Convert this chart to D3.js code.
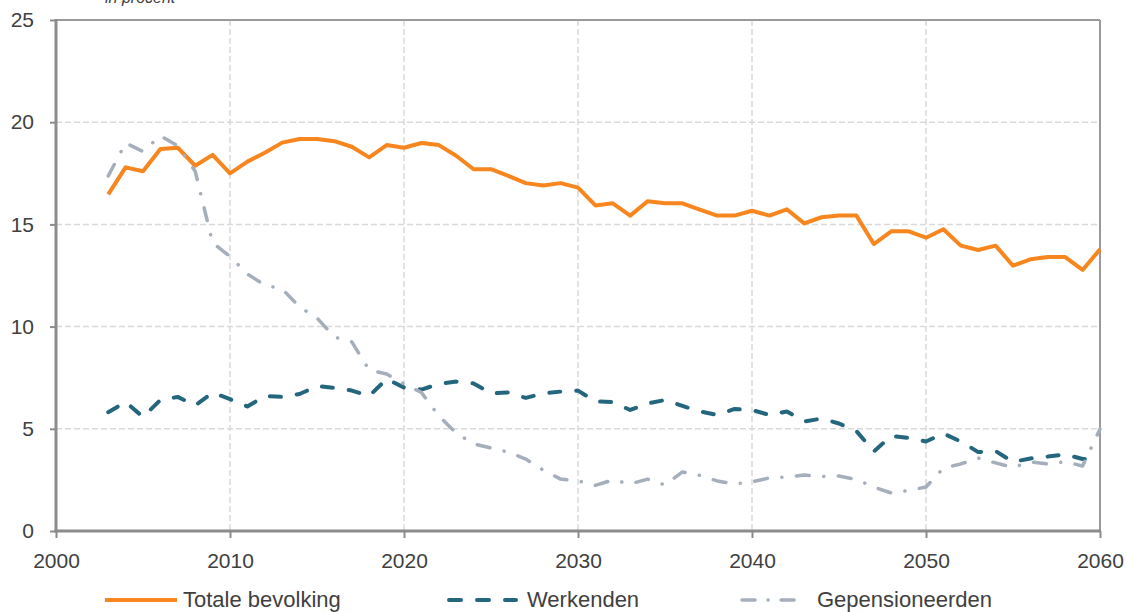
<!DOCTYPE html>
<html>
<head>
<meta charset="utf-8">
<script src="https://cdn.jsdelivr.net/npm/d3@7"></script>
<style>
  html, body { margin: 0; padding: 0; background: #fff; }
  svg { display: block; }
  text { font-family: "Liberation Sans", Arial, sans-serif; }
</style>
</head>
<body>
<svg id="chart" width="1126" height="612"></svg>
<script>
const years = d3.range(2003, 2061);

const totaleBevolking = [
  16.47, 17.79, 17.6, 18.69, 18.75, 17.87, 18.4, 17.5, 18.07, 18.51,
  19.0, 19.18, 19.18, 19.07, 18.8, 18.28, 18.88, 18.75, 18.98, 18.88,
  18.36, 17.7, 17.7, 17.37, 17.02, 16.9, 17.02, 16.8, 15.93, 16.03,
  15.43, 16.13, 16.03, 16.03, 15.72, 15.43, 15.43, 15.67, 15.43, 15.74,
  15.05, 15.35, 15.43, 15.43, 14.04, 14.66, 14.66, 14.35, 14.76, 13.96,
  13.75, 13.96, 12.98, 13.29, 13.4, 13.4, 12.77, 13.78
];

const werkenden = [
  5.81, 6.31, 5.58, 6.41, 6.56, 6.14, 6.77, 6.45, 6.09, 6.6,
  6.56, 6.7, 7.09, 7.0, 6.87, 6.6, 7.44, 7.02, 6.92, 7.19,
  7.31, 7.22, 6.73, 6.78, 6.51, 6.73, 6.82, 6.87, 6.34, 6.31,
  5.92, 6.24, 6.41, 6.12, 5.85, 5.68, 5.97, 5.92, 5.68, 5.85,
  5.36, 5.5, 5.26, 4.89, 3.89, 4.65, 4.55, 4.38, 4.77, 4.38,
  3.86, 3.91, 3.38, 3.55, 3.64, 3.75, 3.52, 3.57
];

const gepensioneerden = [
  17.37, 18.98, 18.57, 19.33, 18.84, 17.6, 14.1, 13.43, 12.57, 12.03,
  11.84, 10.96, 10.42, 9.49, 9.25, 7.88, 7.68, 7.19, 6.78, 5.63,
  4.79, 4.26, 4.06, 3.86, 3.52, 2.98, 2.54, 2.45, 2.23, 2.5,
  2.3, 2.54, 2.25, 2.89, 2.72, 2.45, 2.3, 2.4, 2.6, 2.64,
  2.74, 2.67, 2.69, 2.52, 2.15, 1.86, 1.98, 2.15, 3.08, 3.28,
  3.57, 3.33, 3.11, 3.38, 3.28, 3.39, 3.18, 4.99
];

const xTicks = [2000, 2010, 2020, 2030, 2040, 2050, 2060];
const yTicks = [0, 5, 10, 15, 20, 25];
const seriesNames = ["Totale bevolking", "Werkenden", "Gepensioneerden"];
const unitLabel = "in procent";

const svg = d3.select("#chart");
const plotLeft = 56, plotRight = 1100, plotTop = 20, plotBottom = 531;

const x = d3.scaleLinear().domain([2000, 2060]).range([plotLeft, plotRight]);
const y = d3.scaleLinear().domain([0, 25]).range([plotBottom, plotTop]);

const axisColor = "#8c8c8c";
const gridColor = "#d9d9d9";
const textColor = "#404040";

// grid
const grid = svg.append("g");
grid.selectAll("line.gx").data(xTicks.filter(d => d > 2000 && d < 2060)).enter()
  .append("line")
  .attr("x1", d => x(d)).attr("x2", d => x(d))
  .attr("y1", plotTop).attr("y2", plotBottom)
  .attr("stroke", gridColor).attr("stroke-width", 1.5).attr("stroke-dasharray", "6,3");
grid.selectAll("line.gy").data(yTicks.filter(d => d > 0 && d < 25)).enter()
  .append("line")
  .attr("x1", plotLeft).attr("x2", plotRight)
  .attr("y1", d => y(d)).attr("y2", d => y(d))
  .attr("stroke", gridColor).attr("stroke-width", 1.5).attr("stroke-dasharray", "6,3");

// frame top/right
svg.append("line").attr("x1", plotLeft).attr("x2", plotRight).attr("y1", y(25)).attr("y2", y(25))
  .attr("stroke", "#9a9a9a").attr("stroke-width", 2);
svg.append("line").attr("x1", plotRight).attr("x2", plotRight).attr("y1", plotTop).attr("y2", plotBottom)
  .attr("stroke", "#9a9a9a").attr("stroke-width", 2);

// axes
const yAxis = svg.append("g").attr("transform", `translate(${plotLeft},0)`)
  .call(d3.axisLeft(y).tickValues(yTicks).tickSize(6).tickPadding(16).tickFormat(d3.format("d")));
const xAxis = svg.append("g").attr("transform", `translate(0,${plotBottom})`)
  .call(d3.axisBottom(x).tickValues(xTicks).tickSize(7).tickPadding(15).tickFormat(d3.format("d")));
[yAxis, xAxis].forEach(g => {
  g.select(".domain").remove();
  g.selectAll(".tick line").attr("stroke", axisColor).attr("stroke-width", 2);
  g.selectAll(".tick text").attr("fill", textColor)
    .style("font-family", '"Liberation Sans", Arial, sans-serif').style("font-size", "21px");
});
svg.append("line").attr("x1", plotLeft).attr("x2", plotLeft).attr("y1", plotTop - 1).attr("y2", plotBottom + 1.5)
  .attr("stroke", axisColor).attr("stroke-width", 3);
svg.append("line").attr("x1", plotLeft - 1.5).attr("x2", plotRight + 1).attr("y1", plotBottom).attr("y2", plotBottom)
  .attr("stroke", axisColor).attr("stroke-width", 3);

// series
const styles = [
  { color: "#f7861e", width: 4, dash: null },
  { color: "#24667d", width: 4, dash: "11,16" },
  { color: "#a5afbc", width: 3.5, dash: "13,14.5,0.1,14.5" }
];
const allSeries = [totaleBevolking, werkenden, gepensioneerden];
const line = d3.line().x(d => x(d[0])).y(d => y(d[1]));

allSeries.forEach((vals, i) => {
  const s = styles[i];
  svg.append("path")
    .datum(years.map((yr, j) => [yr, vals[j]]))
    .attr("d", line)
    .attr("fill", "none")
    .attr("stroke", s.color)
    .attr("stroke-width", s.width)
    .attr("stroke-linejoin", "round")
    .attr("stroke-linecap", s.dash ? "round" : "butt")
    .attr("stroke-dasharray", s.dash);
});

// unit label
svg.append("text").attr("x", 105).attr("y", 3)
  .attr("fill", textColor).style("font-size", "16px").style("font-style", "italic")
  .text(unitLabel);

// legend
const legendItems = [
  { x1: 105, x2: 177, tx: 183 },
  { x1: 449, x2: 516, tx: 527 },
  { x1: 742, x2: 797, tx: 817 }
];
const legend = svg.append("g");
legendItems.forEach((it, i) => {
  const s = styles[i];
  legend.append("line")
    .attr("x1", it.x1).attr("x2", it.x2).attr("y1", 600).attr("y2", 600)
    .attr("stroke", s.color).attr("stroke-width", s.width)
    .attr("stroke-linecap", s.dash ? "round" : "butt")
    .attr("stroke-dasharray", i === 1 ? "12,16" : (i === 2 ? "13,13,0.1,13" : null));
  legend.append("text").attr("x", it.tx).attr("y", 606.5)
    .attr("fill", textColor).style("font-size", "22px")
    .text(seriesNames[i]);
});
</script>
</body>
</html>
